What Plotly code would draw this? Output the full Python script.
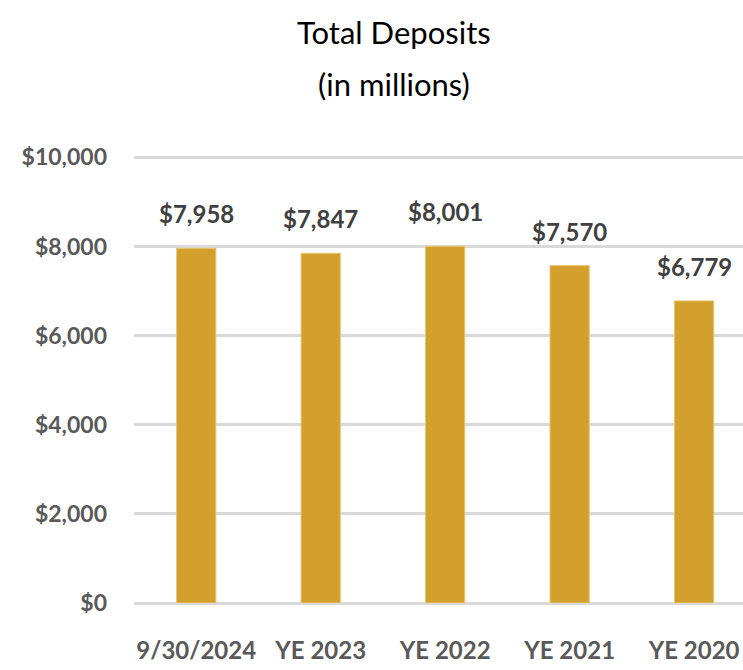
import plotly.graph_objects as go

categories = ["9/30/2024", "YE 2023", "YE 2022", "YE 2021", "YE 2020"]
deposits = [7958, 7847, 8001, 7570, 6779]
tick_vals = [0, 2000, 4000, 6000, 8000, 10000]
tick_text = ["$0", "$2,000", "$4,000", "$6,000", "$8,000", "$10,000"]
title_lines = ["Total Deposits", "(in millions)"]

FONT = "Lato, Roboto, sans-serif"

W, H = 743, 670
L, R, T, B = 134, 0, 156, 67
plot_h = H - T - B

def py_to_paper(py):
    return (H - B - py) / plot_h

fig = go.Figure(go.Bar(
    x=categories,
    y=deposits,
    marker=dict(color="#D3A02D", line=dict(color="#E6C36E", width=1)),
))

for c, v in zip(categories, deposits):
    fig.add_annotation(
        x=c, y=v, xref="x", yref="y",
        text=f"${v:,}", showarrow=False,
        yanchor="bottom", yshift=18,
        font=dict(family=FONT, size=24, color="#404040", weight="bold"),
    )

title_x = (394 - L) / (W - L - R)
for line, py in zip(title_lines, [32, 84]):
    fig.add_annotation(
        x=title_x, y=py_to_paper(py), xref="paper", yref="paper",
        text=line, showarrow=False, xanchor="center", yanchor="middle",
        font=dict(family=FONT, size=31, color="black"),
    )

fig.update_layout(
    width=W, height=H,
    paper_bgcolor="white", plot_bgcolor="white",
    margin=dict(l=L, r=R, t=T, b=B),
    bargap=0.685,
    showlegend=False,
    xaxis=dict(
        range=[-0.5, 4.393],
        showgrid=False, showline=False, zeroline=False,
        ticks="", automargin=False,
        tickfont=dict(family=FONT, size=24, color="#595959", weight="bold"),
        ticklabelstandoff=31,
    ),
    yaxis=dict(
        range=[0, 10030],
        tickvals=tick_vals, ticktext=tick_text,
        showgrid=True, gridcolor="#D9D9D9", gridwidth=3,
        zeroline=True, zerolinecolor="#D9D9D9", zerolinewidth=3,
        showline=False, ticks="", automargin=False,
        tickfont=dict(family=FONT, size=23, color="#595959", weight="bold"),
        ticklabelstandoff=26,
    ),
)

fig.write_html("out.html", config={"displayModeBar": False},
               post_script="document.body.style.margin='0';")
